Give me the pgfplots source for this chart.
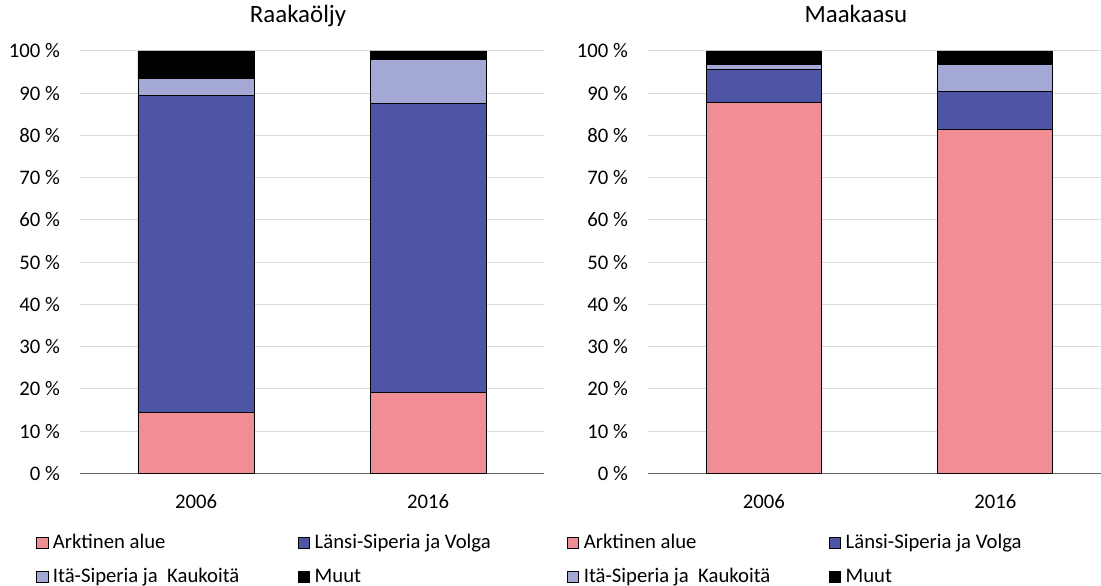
\documentclass[border=0pt]{standalone}
\usepackage{fontspec}
\setmainfont{Carlito}
\usepackage{pgfplots}
\pgfplotsset{compat=1.18}
\definecolor{cpink}{RGB}{241,141,148}
\definecolor{cblue}{RGB}{78,85,164}
\definecolor{clight}{RGB}{163,168,212}
\definecolor{cgrid}{RGB}{217,217,217}
\definecolor{caxis}{RGB}{100,100,100}
\newcommand{\fnt}{\fontsize{20.7bp}{24bp}\selectfont}
\pgfplotsset{
  mystyle/.style={
    scale only axis,
    height=422.3bp,
    ybar stacked,
    ymin=0, ymax=100,
    xmin=-0.5, xmax=1.5,
    enlargelimits=false,
    xtick={0,1}, xticklabels={2006,2016},
    ytick={0,10,...,100},
    yticklabels={0 \%,10 \%,20 \%,30 \%,40 \%,50 \%,60 \%,70 \%,80 \%,90 \%,100 \%},
    major tick length=0pt,
    ymajorgrids,
    grid style={cgrid, line width=1bp},
    axis lines*=left,
    y axis line style={draw=none},
    x axis line style={draw=caxis, line width=1.2bp},
    axis on top=false,
    tick label style={font=\fnt, text=black},
    /pgf/number format/assume math mode=true,
    yticklabel style={inner xsep=0pt, xshift=-20bp},
    xticklabel style={inner ysep=0pt, yshift=-20.7bp},
    title style={font=\fontsize{24.9bp}{28bp}\selectfont, anchor=base, inner sep=0pt},
    legend columns=2,
    legend cell align=left,
    legend image code/.code={
      \draw[##1, draw=black, line width=0.8bp] (0bp,-5bp) rectangle (11.5bp,6bp);
      \path (16bp,0bp);
    },
    legend style={draw=none, fill=none, anchor=north west, inner sep=0pt, outer sep=0pt,
      font=\fnt, row sep=16bp,
      nodes={inner xsep=0pt, inner ysep=0pt, text height=14bp, text depth=4bp}},
    every axis plot/.append style={draw=black, line width=0.9bp},
  }
}
\begin{document}
\begin{tikzpicture}
\useasboundingbox (-80bp,-112.7bp) rectangle (1021bp,473.3bp);
\begin{axis}[mystyle, width=464bp, bar width=116bp,
  title={Raakaöljy}, title style={at={(0.47,1.0545)}},
  legend style={at={(-0.0948,-0.1445)}}]
\addplot[fill=cpink] coordinates {(0,14.35) (1,19.2)};
\addplot[fill=cblue] coordinates {(0,75.15) (1,68.4)};
\addplot[fill=clight] coordinates {(0,3.9) (1,10.5)};
\addplot[fill=black] coordinates {(0,6.6) (1,1.9)};
\addlegendentry{\makebox[245bp][l]{Arktinen alue}}
\addlegendentry{\makebox[245bp][l]{Länsi-Siperia ja Volga}}
\addlegendentry{\makebox[245bp][l]{Itä-Siperia ja\ \ Kaukoitä}}
\addlegendentry{\makebox[245bp][l]{Muut}}
\end{axis}
\begin{axis}[mystyle, at={(568bp,0bp)}, width=463bp, bar width=115bp,
  title={Maakaasu}, title style={at={(0.449,1.0545)}},
  legend style={at={(-0.175,-0.1445)}}]
\addplot[fill=cpink] coordinates {(0,87.7) (1,81.4)};
\addplot[fill=cblue] coordinates {(0,7.9) (1,9.0)};
\addplot[fill=clight] coordinates {(0,1.2) (1,6.3)};
\addplot[fill=black] coordinates {(0,3.2) (1,3.3)};
\addlegendentry{\makebox[245bp][l]{Arktinen alue}}
\addlegendentry{\makebox[245bp][l]{Länsi-Siperia ja Volga}}
\addlegendentry{\makebox[245bp][l]{Itä-Siperia ja\ \ Kaukoitä}}
\addlegendentry{\makebox[245bp][l]{Muut}}
\end{axis}
\end{tikzpicture}
\end{document}
